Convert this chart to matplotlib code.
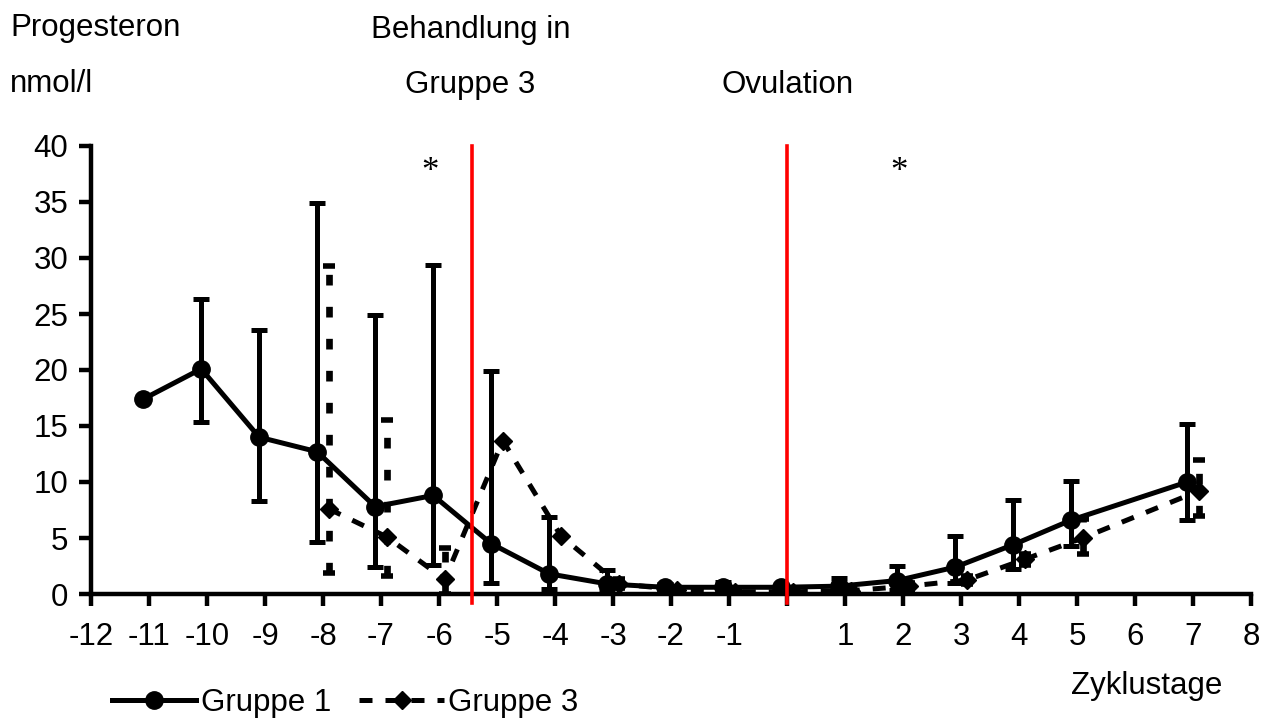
import numpy as np
import matplotlib
matplotlib.use("Agg")
import matplotlib.pyplot as plt

plt.rcParams['font.family'] = ['Liberation Sans', 'DejaVu Sans']

# --- Daten: Progesteron (nmol/l) je Zyklustag, Mittelwert mit Streubereich
tage_g1 = np.array([-11, -10, -9, -8, -7, -6, -5, -4, -3, -2, -1, 0, 1, 2, 3, 4, 5, 7])
mittel_g1 = np.array([17.4, 20.1, 14.0, 12.7, 7.8, 8.8, 4.5, 1.8, 0.9, 0.6, 0.6, 0.6,
                      0.7, 1.2, 2.4, 4.4, 6.6, 10.0])
oben_g1 = np.array([np.nan, 26.3, 23.6, 34.9, 24.9, 29.4, 19.9, 6.9, 2.1, 0.9, 1.1, np.nan,
                    1.4, 2.5, 5.2, 8.4, 10.1, 15.2])
unten_g1 = np.array([np.nan, 15.4, 8.3, 4.6, 2.4, 2.6, 0.95, 0.45, 0.3, 0.3, 0.3, np.nan,
                     0.3, 0.4, 1.0, 2.2, 4.3, 6.6])

tage_g3 = np.array([-8, -7, -6, -5, -4, -3, -2, -1, 0, 1, 2, 3, 4, 5, 7])
mittel_g3 = np.array([7.6, 5.1, 1.3, 13.7, 5.2, 0.9, 0.4, 0.2, 0.2, 0.3, 0.7, 1.25, 3.1, 5.0, 9.2])
oben_g3 = np.array([29.3, 15.5, 4.1, np.nan, np.nan, 1.3, 0.5, 0.4, 0.4, 0.5, 1.0, 1.6, 3.6, 6.7, 12.0])
unten_g3 = np.array([1.9, 1.6, 0.0, np.nan, np.nan, 0.5, 0.2, 0.1, 0.1, 0.1, 0.4, 0.9, 2.6, 3.6, 7.0])

behandlung_tag = -5.43
ovulation_tag = 0.0
signifikant_tage = [-6.15, 1.93]

x_ticks = np.arange(-12, 9)
x_labels = ['' if t == 0 else str(t) for t in x_ticks]
y_ticks = np.arange(0, 41, 5)

W, H = 1265, 720
fig = plt.figure(figsize=(W / 100, H / 100), dpi=100)
ax = fig.add_axes([91 / W, 1 - 594 / H, 1160 / W, 448 / H])

fs = 22.5

# Gruppe 3: gestrichelt mit Rauten
err3 = np.vstack([mittel_g3 - unten_g3, oben_g3 - mittel_g3])
l3, caps3, bars3 = ax.errorbar(tage_g3 + 0.1, mittel_g3, yerr=err3, color='black',
                               lw=3.6, ls=(0, (2.6, 2.6)), marker='D', ms=9.5,
                               elinewidth=4.8, capsize=4, capthick=4, zorder=3)
for b in bars3:
    b.set_linestyle((0, (1.6, 3.2)))

# Gruppe 1: durchgezogen mit Kreisen
err1 = np.vstack([mittel_g1 - unten_g1, oben_g1 - mittel_g1])
l1, caps1, bars1 = ax.errorbar(tage_g1 - 0.1, mittel_g1, yerr=err1, color='black',
                               lw=3.6, ls='-', marker='o', ms=12.5,
                               elinewidth=3.6, capsize=5.5, capthick=3.6, zorder=4)

# Behandlung und Ovulation
for t in [behandlung_tag, ovulation_tag]:
    ax.plot([t, t], [-0.8, 40], color='red', lw=2.6, clip_on=False, zorder=6)

for t in signifikant_tage:
    ax.text(t, 37.6, '*', family='Liberation Serif', fontsize=25,
            ha='center', va='center')

ax.set_xlim(-12, 8)
ax.set_ylim(0, 40)
ax.set_xticks(x_ticks)
ax.set_xticklabels(x_labels)
ax.set_yticks(y_ticks)
for s in ['top', 'right']:
    ax.spines[s].set_visible(False)
for s in ['left', 'bottom']:
    ax.spines[s].set_linewidth(3.2)
ax.tick_params(axis='both', width=3.2, length=8.5, labelsize=fs, direction='out')
ax.tick_params(axis='x', pad=12)
ax.tick_params(axis='y', pad=8)

fig.text(10 / W, 1 - 28 / H, 'Progesteron', fontsize=fs, ha='left', va='center')
fig.text(10 / W, 1 - 84 / H, 'nmol/l', fontsize=fs, ha='left', va='center')
fig.text(471 / W, 1 - 30 / H, 'Behandlung in', fontsize=fs, ha='center', va='center')
fig.text(470 / W, 1 - 85 / H, 'Gruppe 3', fontsize=fs, ha='center', va='center')
fig.text(788 / W, 1 - 85 / H, 'Ovulation', fontsize=fs, ha='center', va='center')
fig.text(1147 / W, 1 - 686 / H, 'Zyklustage', fontsize=fs, ha='center', va='center')

fig.legend([l1, l3], ['Gruppe 1', 'Gruppe 3'], loc='center left',
           bbox_to_anchor=(112 / W, 1 - 703 / H), ncol=2, frameon=False, fontsize=fs,
           handlelength=2.7, handletextpad=0.15, columnspacing=0.9,
           borderpad=0, borderaxespad=0)

fig.savefig('out.png', dpi=100)
